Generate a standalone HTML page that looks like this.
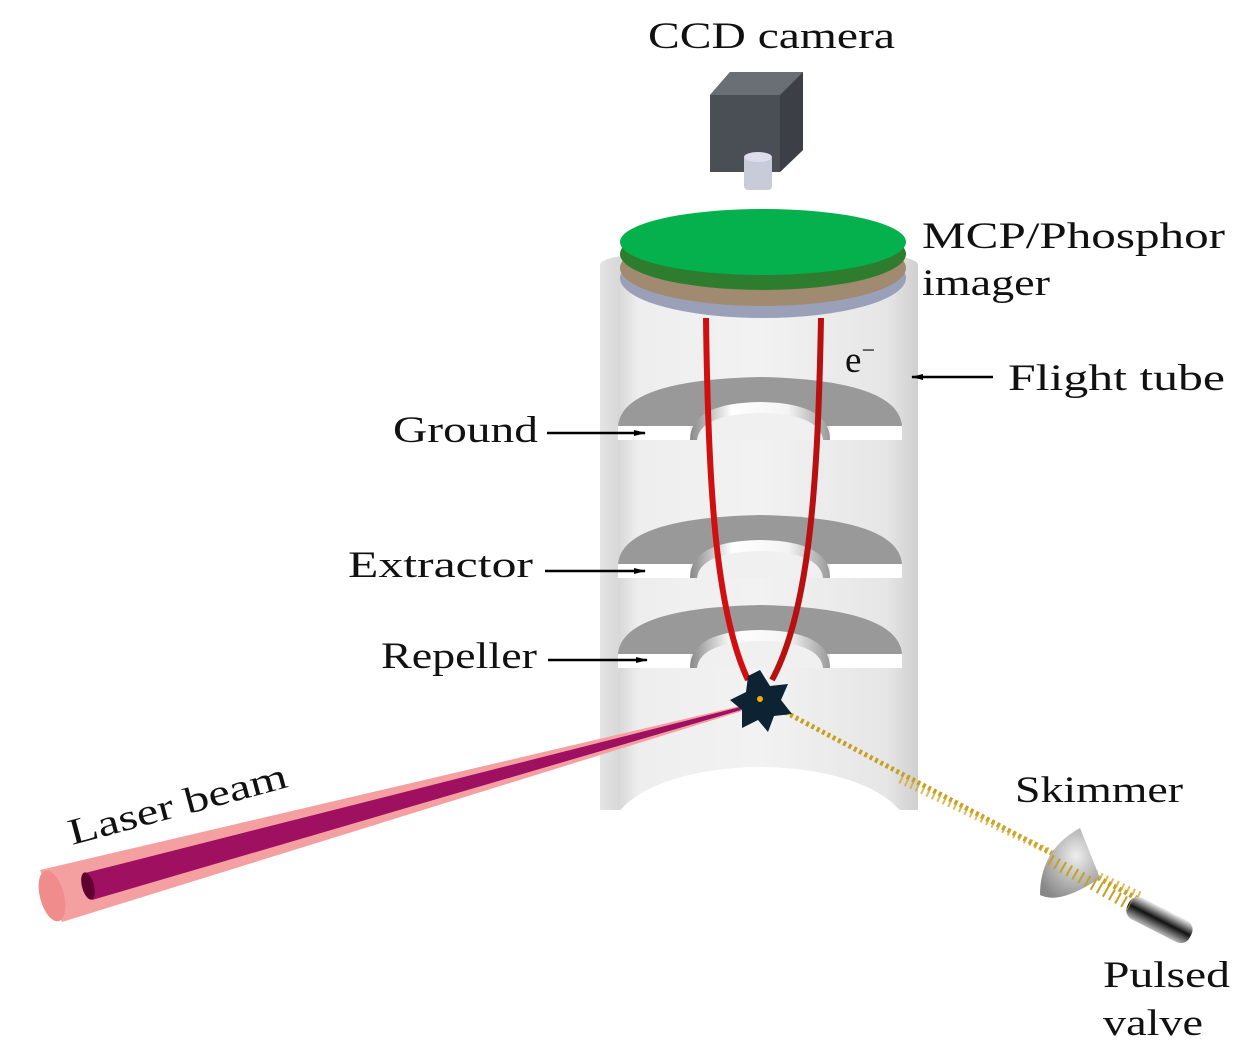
<!DOCTYPE html>
<html><head><style>
body{margin:0;background:#fff;}
svg text{font-family:"Liberation Serif",serif;font-size:37px;fill:#111;}
</style></head><body>
<svg width="1260" height="1047" viewBox="0 0 1260 1047" xmlns="http://www.w3.org/2000/svg">
<defs>
<linearGradient id="cyl" x1="0" x2="1" y1="0" y2="0">
<stop offset="0" stop-color="#e4e4e4"/><stop offset="0.06" stop-color="#d8d8d8"/><stop offset="0.12" stop-color="#eeeeee"/><stop offset="0.5" stop-color="#f2f2f2"/><stop offset="0.9" stop-color="#e6e6e6"/><stop offset="1" stop-color="#d0d0d0"/></linearGradient>
<linearGradient id="hole" x1="0" x2="1"><stop offset="0" stop-color="#888"/><stop offset="0.3" stop-color="#fff"/><stop offset="0.7" stop-color="#f4f4f4"/><stop offset="1" stop-color="#999"/></linearGradient>
<linearGradient id="valve" x1="0" y1="0" x2="0" y2="1"><stop offset="0" stop-color="#eee"/><stop offset="0.5" stop-color="#111"/><stop offset="1" stop-color="#bbb"/></linearGradient>
<radialGradient id="sk" cx="0.6" cy="0.4" r="0.7"><stop offset="0" stop-color="#eee"/><stop offset="1" stop-color="#888"/></radialGradient>
<marker id="ar" markerWidth="12" markerHeight="6" refX="11" refY="3" orient="auto" markerUnits="userSpaceOnUse"><path d="M0,0 L12,3 L0,6 Z" fill="#000"/></marker>
</defs>
<path d="M600,265 Q600,250 760,250 Q918,250 918,265 L918,810 L600,810 Z" fill="url(#cyl)"/>
<ellipse cx="760" cy="832" rx="148" ry="65" fill="#fff"/>
<rect x="590" y="832" width="340" height="60" fill="#fff"/>
<g id="p">
<path d="M618,426 Q622,380 760,377 Q898,380 902,426 Z" fill="#999"/>
<path d="M690,440 Q690,403 760,402 Q830,403 830,440 Z" fill="url(#hole)"/>
<path d="M697,440 Q700,414 760,413 Q820,414 823,440 Z" fill="#f0f0f0"/>
<rect x="618" y="426" width="72" height="14" fill="#fff"/>
<rect x="830" y="426" width="72" height="14" fill="#fff"/>
</g>
<use href="#p" y="138"/>
<use href="#p" y="228"/>
<ellipse cx="763" cy="278" rx="143" ry="40" fill="#9aa0b8"/>
<ellipse cx="763" cy="268" rx="143" ry="38" fill="#a08a70"/>
<ellipse cx="763" cy="254" rx="143" ry="36" fill="#2e7d2e"/>
<ellipse cx="763" cy="242" rx="143" ry="33" fill="#04b14c"/>
<path d="M706,318 C708,480 715,610 748,680" stroke="#d01010" stroke-width="6" fill="none"/>
<path d="M821,318 C818,480 810,610 772,680" stroke="#b81010" stroke-width="6" fill="none"/>
<polygon points="40,870 740,706 742,711 62,922" fill="#f4a0a0"/>
<polygon points="85,873 740,707 741,710 92,900" fill="#a01060"/>
<ellipse cx="52" cy="896" rx="12" ry="26" fill="#f08c8c" transform="rotate(-15 52 896)"/>
<ellipse cx="88" cy="886" rx="6" ry="14" fill="#600030" transform="rotate(-15 88 886)"/>
<path d="M785,712 L1140,900" stroke="#c8a020" stroke-width="5" stroke-dasharray="3 3" fill="none"/>
<path d="M900,780 L1140,895" stroke="#d4aa30" stroke-width="7" stroke-dasharray="2 4" fill="none" opacity="0.8"/>
<polygon points="760,670 770,686 788,684 781,700 792,714 774,716 768,732 758,720 742,728 742,710 730,700 746,692 748,676" fill="#0d2233"/>
<circle cx="760" cy="699" r="3" fill="#f0b000"/>
<path d="M1080,828 Q1040,850 1040,895 Q1060,905 1100,878 Z" fill="url(#sk)"/>
<g transform="rotate(27 1130 905)"><rect x="1128" y="893" width="70" height="24" rx="10" fill="url(#valve)"/></g>
<path d="M1050,860 L1130,905" stroke="#c8a020" stroke-width="12" stroke-dasharray="2 5" fill="none"/>
<polygon points="710,95 730,72 803,72 803,150 780,172 710,172" fill="#4a4e55"/>
<polygon points="780,95 803,72 803,150 780,172" fill="#3c3f46"/>
<polygon points="710,95 730,72 803,72 780,95" fill="#6a6e75"/>
<rect x="744" y="155" width="28" height="35" rx="4" fill="#c8ccd8"/>
<ellipse cx="758" cy="157" rx="14" ry="5" fill="#dde"/>
<text x="648" y="48" textLength="247" lengthAdjust="spacingAndGlyphs">CCD camera</text>
<text x="922" y="248" textLength="303" lengthAdjust="spacingAndGlyphs">MCP/Phosphor</text>
<text x="922" y="295" textLength="128" lengthAdjust="spacingAndGlyphs">imager</text>
<text x="845" y="372" font-size="34">e<tspan font-size="24" dy="-14">−</tspan></text>
<text x="1008" y="390" textLength="217" lengthAdjust="spacingAndGlyphs">Flight tube</text>
<line x1="993" y1="377" x2="912" y2="377" stroke="#000" stroke-width="2.5" marker-end="url(#ar)"/>
<text x="393" y="442" textLength="145" lengthAdjust="spacingAndGlyphs">Ground</text>
<line x1="547" y1="433" x2="645" y2="433" stroke="#000" stroke-width="2.5" marker-end="url(#ar)"/>
<text x="348" y="577" textLength="185" lengthAdjust="spacingAndGlyphs">Extractor</text>
<line x1="545" y1="571" x2="645" y2="571" stroke="#000" stroke-width="2.5" marker-end="url(#ar)"/>
<text x="381" y="668" textLength="156" lengthAdjust="spacingAndGlyphs">Repeller</text>
<line x1="548" y1="660" x2="647" y2="660" stroke="#000" stroke-width="2.5" marker-end="url(#ar)"/>
<text x="72" y="845" transform="rotate(-15 72 845)" textLength="225" lengthAdjust="spacingAndGlyphs">Laser beam</text>
<text x="1015" y="802" textLength="168" lengthAdjust="spacingAndGlyphs">Skimmer</text>
<text x="1103" y="987" textLength="127" lengthAdjust="spacingAndGlyphs">Pulsed</text>
<text x="1103" y="1035" textLength="100" lengthAdjust="spacingAndGlyphs">valve</text>
</svg>
</body></html>
